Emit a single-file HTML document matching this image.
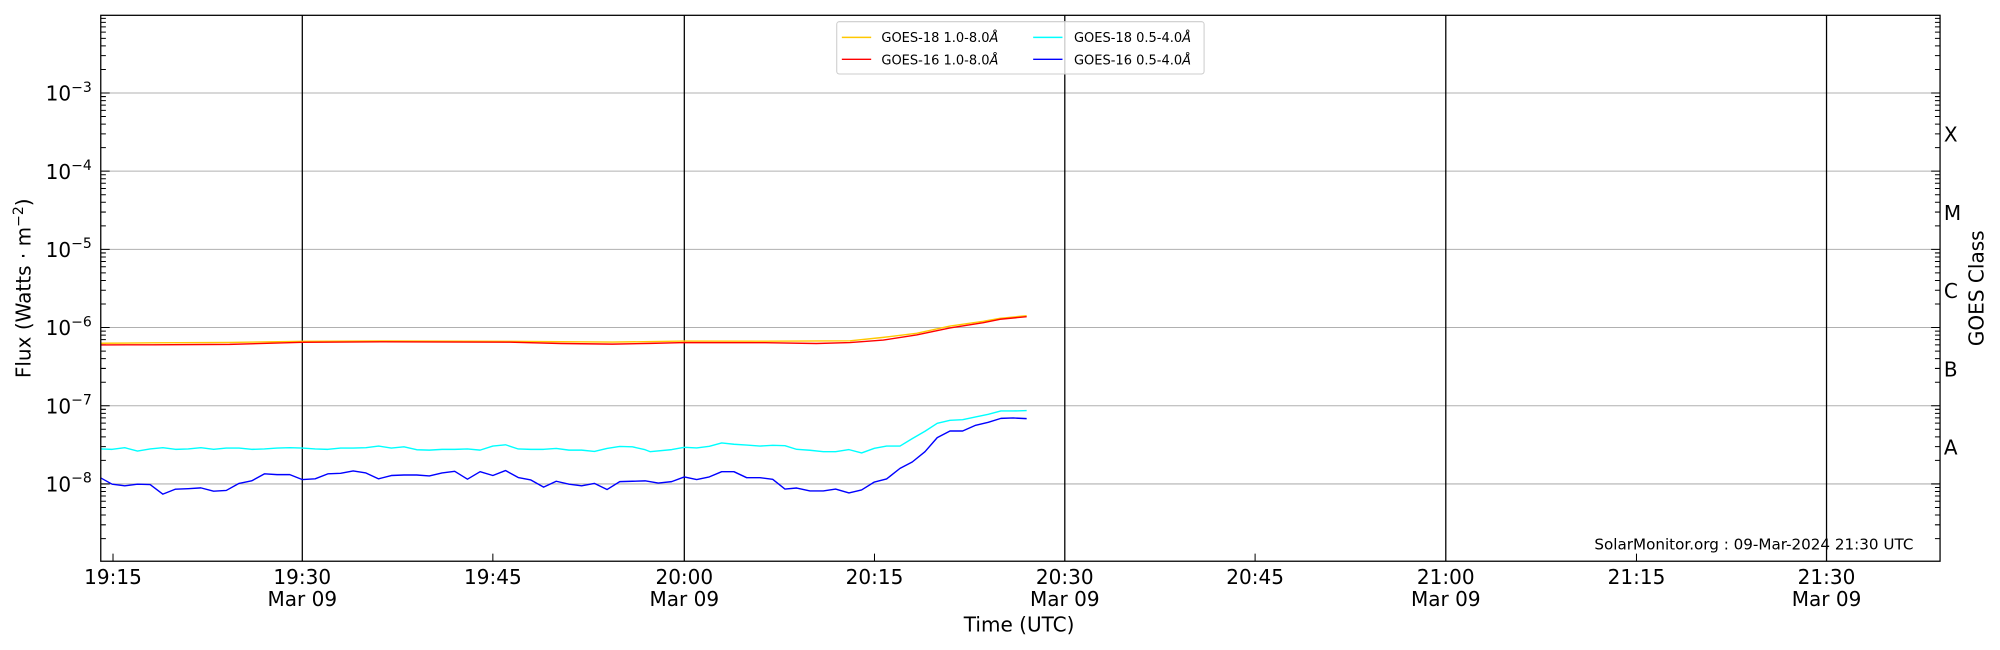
<!DOCTYPE html>
<html><head><meta charset="utf-8"><style>body{margin:0;background:#fff}svg{display:block}text{font-family:"DejaVu Sans","Liberation Sans",sans-serif}</style></head>
<body>
<svg width="2000" height="650" viewBox="0 0 1568 509.6" xmlns="http://www.w3.org/2000/svg">
<defs>
<clipPath id="ax"><rect x="79" y="12" width="1442" height="428"/></clipPath>
<g id="mn" stroke="#000" stroke-width="0.8">
<path d="M79 -18.45h4M79 -29.25h4M79 -36.9h4M79 -42.85h4M79 -47.7h4M79 -51.8h4M79 -55.35h4M79 -58.5h4M1521 -18.45h-4M1521 -29.25h-4M1521 -36.9h-4M1521 -42.85h-4M1521 -47.7h-4M1521 -51.8h-4M1521 -55.35h-4M1521 -58.5h-4"/>
</g>
<g id="dec"><use href="#mn"/><path d="M79 0h7M1521 0h-7" stroke="#000" stroke-width="0.8"/></g>
</defs>
<rect width="1568" height="510" fill="#fff"/>
<g stroke="#b0b0b0" stroke-width="0.8">
<line x1="79" x2="1521" y1="72.9" y2="72.9"/><line x1="79" x2="1521" y1="134.2" y2="134.2"/><line x1="79" x2="1521" y1="195.5" y2="195.5"/><line x1="79" x2="1521" y1="256.8" y2="256.8"/><line x1="79" x2="1521" y1="318.1" y2="318.1"/><line x1="79" x2="1521" y1="379.4" y2="379.4"/>
</g>
<g stroke="#000" stroke-width="1">
<line x1="237" x2="237" y1="12" y2="440"/><line x1="536.5" x2="536.5" y1="12" y2="440"/><line x1="834.8" x2="834.8" y1="12" y2="440"/><line x1="1133.5" x2="1133.5" y1="12" y2="440"/><line x1="1432" x2="1432" y1="12" y2="440"/>
</g>
<g clip-path="url(#ax)">
<use href="#dec" transform="translate(0,72.9)"/>
<use href="#dec" transform="translate(0,134.2)"/>
<use href="#dec" transform="translate(0,195.5)"/>
<use href="#dec" transform="translate(0,256.8)"/>
<use href="#dec" transform="translate(0,318.1)"/>
<use href="#dec" transform="translate(0,379.4)"/>
<use href="#mn" transform="translate(0,440.7)"/>
<path d="M88.6 440v-6M386.4 440v-6M685.6 440v-6M984 440v-6M1283 440v-6" stroke="#000" stroke-width="0.8"/>
</g>
<g fill="none" stroke-width="1.1" stroke-linejoin="round">
<polyline stroke="#ffc800" points="79,269.1 120,268.8 180,268.5 237,267.6 300,267.3 400,267.6 480,268.2 536.5,267.4 600,267.5 666.4,267.2 692.5,264.5 718.6,261.3 744.8,255.6 770.9,251.9 784,249.6 804.9,247.5"/>
<polyline stroke="#ff0000" points="79,270.4 120,270.3 180,270 237,268.4 300,268 400,268.3 440,269.3 480,269.8 510,269.2 536.5,268.6 600,268.7 640,269.3 666.4,268.6 692.5,266.6 718.6,262.6 744.8,257.1 770.9,253 784,250.3 804.9,248.3"/>
<polyline stroke="#00ffff" points="79,352.0 87.9,352.3 97.8,351.0 107.8,353.6 117.7,352.0 127.7,351.0 137.6,352.3 147.6,352.0 157.5,351.0 167.5,352.3 177.4,351.3 187.4,351.3 197.3,352.3 207.3,352.0 217.2,351.3 227.2,351.0 237.1,351.3 247.1,352.0 257,352.3 267,351.3 276.9,351.3 286.9,351.0 296.8,349.7 306.8,351.3 316.7,350.3 326.7,352.6 336.6,352.9 346.6,352.3 356.5,352.3 366.5,352.0 376.4,352.9 386.4,349.7 396.3,348.7 406.3,352.0 416.2,352.3 426.2,352.3 436.1,351.6 446.1,352.9 456,352.9 466,353.9 475.9,351.6 485.9,350.0 495.8,350.3 505.8,352.6 509.6,354.1 526.6,352.5 536.5,350.7 546.2,351.2 556.1,349.9 565.8,347.3 575.4,348.3 585.4,348.9 595.8,349.7 605.8,349.1 615.4,349.4 624.6,352.3 635,353.0 645.5,354.1 655.1,354.1 665.6,352.5 675.5,355.1 685.5,351.5 695.1,349.7 705.6,349.7 715.2,343.9 725.2,338.1 734.8,331.9 744.8,329.5 754.7,329.0 764.9,326.9 774.8,324.8 784.7,322.2 794.4,322.2 804.9,321.9"/>
<polyline stroke="#0000ff" points="79,374.7 87.9,379.6 97.8,380.9 107.8,379.6 117.7,379.9 127.7,387.4 137.6,383.5 147.6,383.1 157.5,382.5 167.5,385.1 177.4,384.5 187.4,379.0 197.3,377.0 207.3,371.5 217.2,372.1 227.2,372.1 237.1,376.0 247.1,375.4 257,371.5 267,371.1 276.9,369.2 286.9,370.8 296.8,375.4 306.8,372.8 316.7,372.4 326.7,372.4 336.6,373.1 346.6,370.8 356.5,369.5 366.5,375.7 376.4,369.8 386.4,372.8 396.3,368.9 406.3,374.4 416.2,376.3 426.2,381.9 436.1,377.3 446.1,379.6 456,380.9 466,379.0 475.9,383.8 485.9,377.6 495.8,377.3 505.8,377.0 516.1,378.7 526.6,377.6 536.5,373.9 546.2,376.0 556.1,373.9 565.8,369.8 575.4,369.8 585.4,374.5 595.8,374.5 605.8,375.8 615.4,383.4 624.6,382.6 635,384.9 645.5,384.9 655.1,383.4 665.6,386.5 675.5,384.1 685.5,377.9 695.1,375.5 705.6,367.2 715.2,362.2 725.2,354.1 734.8,343.1 744.8,337.9 754.7,337.9 764.9,333.4 774.8,331.1 784.7,328.0 794.4,327.7 804.9,328.2"/>
</g>
<rect x="79" y="12" width="1442" height="428" fill="none" stroke="#000" stroke-width="1"/>
<g font-size="15.7" fill="#000" text-anchor="middle">
<text x="88.6" y="458">19:15</text>
<text x="237" y="458">19:30</text><text x="237" y="475">Mar 09</text>
<text x="386.4" y="458">19:45</text>
<text x="536.5" y="458">20:00</text><text x="536.5" y="475">Mar 09</text>
<text x="685.6" y="458">20:15</text>
<text x="834.8" y="458">20:30</text><text x="834.8" y="475">Mar 09</text>
<text x="984" y="458">20:45</text>
<text x="1133.5" y="458">21:00</text><text x="1133.5" y="475">Mar 09</text>
<text x="1283" y="458">21:15</text>
<text x="1432" y="458">21:30</text><text x="1432" y="475">Mar 09</text>
<text x="799" y="495">Time (UTC)</text>
</g>
<g font-size="15.7" fill="#000" text-anchor="end">
<text x="72" y="79">10<tspan font-size="11" dy="-7">−3</tspan></text>
<text x="72" y="140.3">10<tspan font-size="11" dy="-7">−4</tspan></text>
<text x="72" y="201.6">10<tspan font-size="11" dy="-7">−5</tspan></text>
<text x="72" y="262.8">10<tspan font-size="11" dy="-7">−6</tspan></text>
<text x="72" y="324.1">10<tspan font-size="11" dy="-7">−7</tspan></text>
<text x="72" y="385.3">10<tspan font-size="11" dy="-7">−8</tspan></text>
</g>
<text font-size="15.7" transform="translate(24,226) rotate(-90)" text-anchor="middle">Flux (Watts · m<tspan font-size="11" dy="-6">−2</tspan><tspan dy="6">)</tspan></text>
<g font-size="15.7">
<text x="1524" y="111">X</text><text x="1524" y="172.5">M</text><text x="1524" y="233.5">C</text><text x="1524" y="295">B</text><text x="1524" y="356.5">A</text>
</g>
<text font-size="15.7" transform="translate(1555,226) rotate(-90)" text-anchor="middle">GOES Class</text>
<text x="1250" y="431" font-size="11.9">SolarMonitor.org : 09-Mar-2024 21:30 UTC</text>
<rect x="656" y="17" width="288" height="41" rx="2" fill="#fff" fill-opacity="0.8" stroke="#ccc" stroke-width="0.8"/>
<g stroke-width="1.1">
<line x1="660" x2="683" y1="29.3" y2="29.3" stroke="#ffc800"/>
<line x1="660" x2="683" y1="46.5" y2="46.5" stroke="#ff0000"/>
<line x1="810" x2="833" y1="29.3" y2="29.3" stroke="#00ffff"/>
<line x1="810" x2="833" y1="46.5" y2="46.5" stroke="#0000ff"/>
</g>
<g font-size="10.2">
<text x="691" y="33">GOES-18 1.0-8.0<tspan font-style="italic">Å</tspan></text>
<text x="691" y="50.5">GOES-16 1.0-8.0<tspan font-style="italic">Å</tspan></text>
<text x="842" y="33">GOES-18 0.5-4.0<tspan font-style="italic">Å</tspan></text>
<text x="842" y="50.5">GOES-16 0.5-4.0<tspan font-style="italic">Å</tspan></text>
</g>
</svg>
</body></html>
